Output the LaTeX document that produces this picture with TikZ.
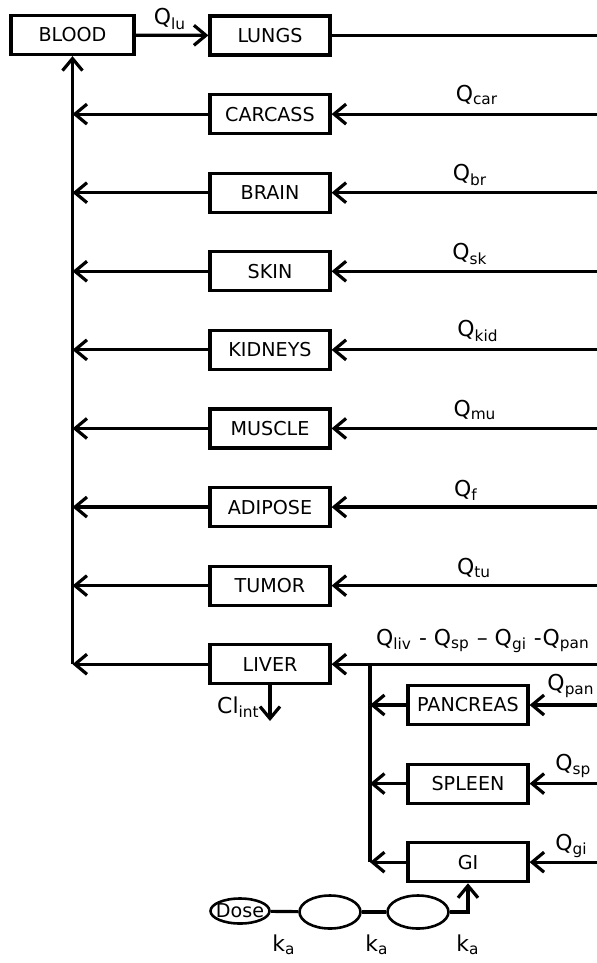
\documentclass[tikz,border=0pt]{standalone}
\usepackage{fontspec}
\setmainfont{DejaVu Sans}
\usetikzlibrary{shapes.geometric, arrows.meta, positioning}
\newcommand{\boxfont}{\fontsize{9.6}{11}\selectfont}
\newcommand{\flowfont}{\fontsize{11}{13}\selectfont}

\begin{document}
\begin{tikzpicture}[
    x=0.5bp, y=-0.5bp,
    node distance=18.2bp,
    organ/.style={rectangle, draw, line width=1.6pt, minimum width=60bp, minimum height=19.5bp, inner sep=0pt, font=\boxfont},
    pool/.style={ellipse, draw, line width=1.3pt, minimum width=30.5bp, minimum height=16.5bp, inner sep=0pt},
    flow/.style={line width=1.6pt},
    arrow/.style={flow, -{Straight Barb[length=6bp, width=10bp]}},
    rate/.style={font=\flowfont, inner sep=1pt}
]
    \useasboundingbox (0,0) rectangle (597,963);

    % Edges of the picture
    \coordinate (rim) at (597,0);
    \coordinate (split) at (370,0);

    % Nodes
    \node[organ, minimum width=61.5bp] (blood) at (72.5,35) {BLOOD};
    \node[organ] (lungs) at (270,35.5) {LUNGS};
    \node[organ, below=of lungs] (carcass) {CARCASS};
    \node[organ, below=of carcass] (brain) {BRAIN};
    \node[organ, below=of brain] (skin) {SKIN};
    \node[organ, below=of skin] (kidneys) {KIDNEYS};
    \node[organ, below=of kidneys] (muscle) {MUSCLE};
    \node[organ, below=of muscle] (adipose) {ADIPOSE};
    \node[organ, below=of adipose] (tumor) {TUMOR};
    \node[organ, below=of tumor] (liver) {LIVER};

    % Splanchnic organs
    \node[organ] (pancreas) at (468,705) {PANCREAS};
    \node[organ, below=of pancreas] (spleen) {SPLEEN};
    \node[organ, below=of spleen] (gi) {GI};

    % Oral dose
    \node[pool, font=\boxfont, minimum width=29.5bp, minimum height=12.5bp, inner xsep=-2bp] (dose) at (240,911) {Dose};
    \node[pool] (depot1) at (330,912) {};
    \node[pool] (depot2) at (418,912) {};
    \coordinate (clout) at (270,721);

    % Labels
    \node[rate] (qlu) at (170,19) {Q\textsubscript{lu}};
    \node[rate] (qcar) at (477,95) {Q\textsubscript{car}};
    \node[rate] (qbr) at (470,175) {Q\textsubscript{br}};
    \node[rate] (qsk) at (470,254) {Q\textsubscript{sk}};
    \node[rate] (qkid) at (478,331) {Q\textsubscript{kid}};
    \node[rate] (qmu) at (475,410) {Q\textsubscript{mu}};
    \node[rate] (qf) at (466,490) {Q\textsubscript{f}};
    \node[rate] (qtu) at (474,568) {Q\textsubscript{tu}};
    \node[rate] (qliv) at (483,641) {Q\textsubscript{liv} - Q\textsubscript{sp} – Q\textsubscript{gi} -Q\textsubscript{pan}};
    \node[rate, anchor=east] (qpan) at (597,686) {Q\textsubscript{pan}};
    \node[rate, anchor=west] (qsp) at (553,766) {Q\textsubscript{sp}};
    \node[rate, anchor=west] (qgi) at (553,846) {Q\textsubscript{gi}};
    \node[rate, anchor=east] (clint) at (262,707) {Cl\textsubscript{int}};
    \node[rate] (ka1) at (284,945) {k\textsubscript{a}};
    \node[rate] (ka2) at (377,945) {k\textsubscript{a}};
    \node[rate] (ka3) at (468,945) {k\textsubscript{a}};

    % Arrows
    \draw[arrow] (blood) -- (lungs);
    \draw[flow] (lungs) -- (lungs -| rim);
    \draw[arrow] (blood.south |- liver) -- (blood.south);

    \draw[arrow] (carcass -| rim) -- (carcass);
    \draw[arrow] (brain -| rim) -- (brain);
    \draw[arrow] (skin -| rim) -- (skin);
    \draw[arrow] (kidneys -| rim) -- (kidneys);
    \draw[arrow] (muscle -| rim) -- (muscle);
    \draw[arrow] (adipose -| rim) -- (adipose);
    \draw[arrow] (tumor -| rim) -- (tumor);
    \draw[arrow] (liver -| rim) -- (liver);

    \draw[arrow] (carcass) -- (carcass -| blood.south);
    \draw[arrow] (brain) -- (brain -| blood.south);
    \draw[arrow] (skin) -- (skin -| blood.south);
    \draw[arrow] (kidneys) -- (kidneys -| blood.south);
    \draw[arrow] (muscle) -- (muscle -| blood.south);
    \draw[arrow] (adipose) -- (adipose -| blood.south);
    \draw[arrow] (tumor) -- (tumor -| blood.south);
    \draw[arrow] (liver) -- (liver -| blood.south);
    \draw[arrow] (liver) -- (clout);

    \draw[flow] (liver -| split) -- (gi -| split);
    \draw[arrow] (pancreas -| rim) -- (pancreas);
    \draw[arrow] (spleen -| rim) -- (spleen);
    \draw[arrow] (gi -| rim) -- (gi);
    \draw[arrow] (pancreas) -- (pancreas -| split);
    \draw[arrow] (spleen) -- (spleen -| split);
    \draw[arrow] (gi) -- (gi -| split);

    \draw[flow] (dose) -- (depot1);
    \draw[flow] (depot1) -- (depot2);
    \draw[arrow] (depot2) -| (gi);

\end{tikzpicture}
\end{document}
